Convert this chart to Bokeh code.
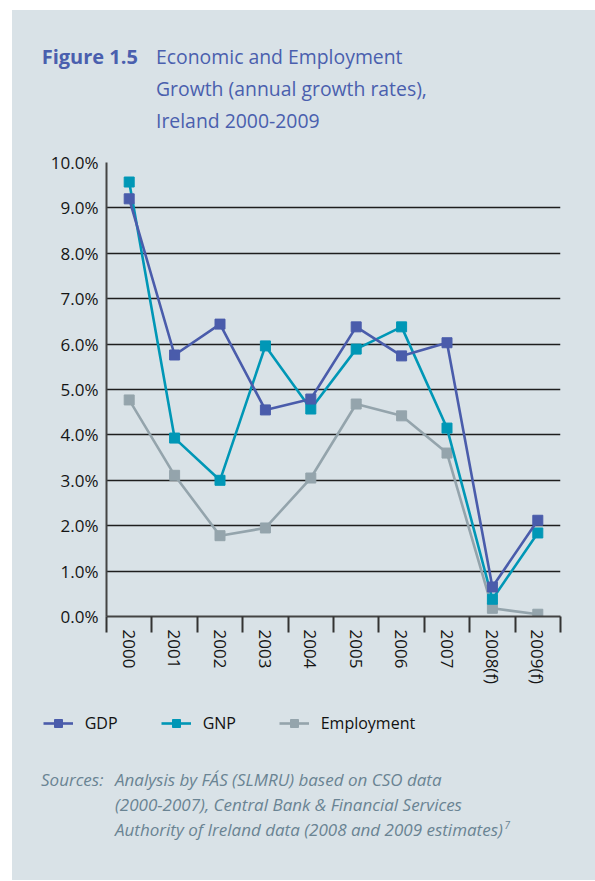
import math
from bokeh.plotting import figure
from bokeh.layouts import column
from bokeh.models import (Range1d, FixedTicker, PrintfTickFormatter,
                          Legend, LegendItem, Div)
from bokeh.embed import file_html
from bokeh.resources import INLINE

# ---- data ----
categories = ["2000", "2001", "2002", "2003", "2004", "2005", "2006", "2007", "2008(f)", "2009(f)"]
gdp = [9.2, 5.76, 6.44, 4.55, 4.79, 6.38, 5.74, 6.03, 0.65, 2.12]
gnp = [9.57, 3.93, 3.0, 5.96, 4.57, 5.89, 6.38, 4.15, 0.38, 1.84]
employment = [4.77, 3.11, 1.78, 1.95, 3.05, 4.68, 4.42, 3.6, 0.18, 0.05]
y_ticks = [0, 1, 2, 3, 4, 5, 6, 7, 8, 9, 10]
series_names = ["GDP", "GNP", "Employment"]
title_label = "Figure 1.5"
title_lines = ["Economic and Employment", "Growth (annual growth rates),", "Ireland 2000-2009"]
source_label = "Sources:"
source_lines = ["Analysis by FÁS (SLMRU) based on CSO data",
                "(2000-2007), Central Bank &amp; Financial Services",
                "Authority of Ireland data (2008 and 2009 estimates)"
                "<span style='font-size:10px;position:relative;top:-7px;'>&thinsp;7</span>"]

# ---- styles ----
PANEL = "#d9e2e7"
C_GDP = "#4a5cab"
C_GNP = "#0097b6"
C_EMP = "#94a4ac"
TITLE_C = "#4a5fae"
SRC_C = "#6a8493"
FONT = "Open Sans"
W = 583

n = len(categories)
centers = [i + 0.5 for i in range(n)]
edges = [float(i) for i in range(n + 1)]
series = [("Employment", employment, C_EMP), ("GNP", gnp, C_GNP), ("GDP", gdp, C_GDP)]

# ---- title block ----
title_html = (
    f"<div style='position:relative;width:{W}px;height:130px;font-family:\"{FONT}\";"
    f"color:{TITLE_C};line-height:32px;'>"
    f"<div style='position:absolute;left:29.7px;top:30.5px;font-size:20px;font-weight:bold;white-space:nowrap;'>{title_label}</div>"
    f"<div style='position:absolute;left:144px;top:30.8px;font-size:19.4px;white-space:nowrap;'>"
    + "<br>".join(title_lines) + "</div></div>"
)
title_div = Div(text=title_html, width=W, height=130, margin=0,
                styles={"background-color": PANEL})

# ---- chart ----
p = figure(width=W, height=556, output_backend="svg", toolbar_location=None,
           x_range=Range1d(0, n), y_range=Range1d(y_ticks[0], y_ticks[-1]),
           min_border_left=94, min_border_right=35, min_border_top=22, min_border_bottom=80,
           background_fill_color=PANEL, border_fill_color=PANEL, outline_line_color=None,
           margin=0)

ya = p.yaxis[0]
ya.ticker = FixedTicker(ticks=y_ticks)
ya.formatter = PrintfTickFormatter(format="%.1f%%")
ya.major_tick_out = 0
ya.major_tick_in = 0
ya.minor_tick_line_color = None
ya.axis_line_color = "#444444"
ya.axis_line_width = 2
ya.major_label_standoff = 8
ya.major_label_text_font = FONT
ya.major_label_text_font_size = "17px"
ya.major_label_text_color = "#151515"

# x axis: labels at category centres, boundary ticks drawn as minor ticks
xa = p.xaxis[0]
xa.ticker = FixedTicker(ticks=centers, minor_ticks=edges)
xa.major_label_overrides = {c: lab for c, lab in zip(centers, categories)}
xa.major_tick_line_color = None
xa.major_tick_in = 0
xa.major_tick_out = 0
xa.minor_tick_in = 0
xa.minor_tick_out = 16
xa.minor_tick_line_color = "#333333"
xa.minor_tick_line_width = 2
xa.axis_line_color = "#444444"
xa.axis_line_width = 2
xa.major_label_standoff = -3
xa.major_label_orientation = -math.pi / 2
xa.major_label_text_font = FONT
xa.major_label_text_font_size = "17px"
xa.major_label_text_color = "#151515"

p.xgrid.visible = False
p.ygrid.ticker = FixedTicker(ticks=y_ticks)
p.ygrid.grid_line_color = "#1e1e1e"
p.ygrid.grid_line_width = 1.5

for name, vals, col in series:
    p.line(centers, vals, line_color=col, line_width=2.6)
    p.scatter(centers, vals, marker="square", size=10, fill_color=col, line_color=col)

# ---- legend strip (own small figure so the legend is not clipped) ----
lg = figure(width=W, height=54, output_backend="svg", toolbar_location=None,
            x_range=Range1d(0, 1), y_range=Range1d(0, 1),
            x_axis_location=None, y_axis_location=None,
            min_border=0, min_border_left=0, min_border_right=0, min_border_top=0, min_border_bottom=0,
            background_fill_color=PANEL, border_fill_color=PANEL, outline_line_color=None,
            margin=0)
if "frame_align" in lg.properties():
    lg.frame_align = False
lg.xgrid.visible = False
lg.ygrid.visible = False
leg_r = {}
for name, vals, col in series:
    l = lg.line(centers, vals, line_color=col, line_width=2.6, visible=False)
    s = lg.scatter(centers, vals, marker="square", size=10, fill_color=col, line_color=col, visible=False)
    leg_r[name] = [l, s]

legend = Legend(items=[LegendItem(label=nm, renderers=leg_r[nm]) for nm in series_names],
                orientation="horizontal", location=(30.7, 16),
                background_fill_alpha=0, border_line_color=None, padding=0, margin=0,
                spacing=2, glyph_width=30, glyph_height=20, label_height=20,
                label_standoff=12, label_width=74, inactive_fill_alpha=0,
                label_text_font=FONT, label_text_font_size="16px", label_text_color="#111111")
lg.add_layout(legend, "center")

# ---- sources block ----
src_html = (
    f"<div style='position:relative;width:{W}px;height:130px;font-family:\"{FONT}\";"
    f"color:{SRC_C};font-size:17px;line-height:25px;font-style:italic;'>"
    f"<div style='position:absolute;left:29px;top:16.5px;white-space:nowrap;'>{source_label}</div>"
    f"<div style='position:absolute;left:103px;top:16.5px;white-space:nowrap;'>"
    + "<br>".join(source_lines) + "</div></div>"
)
src_div = Div(text=src_html, width=W, height=130, margin=0,
              styles={"background-color": PANEL})

layout = column(title_div, p, lg, src_div, spacing=0, margin=(10, 0, 0, 12),
                styles={"background-color": PANEL})

open("out.html", "w").write(file_html(layout, INLINE))
